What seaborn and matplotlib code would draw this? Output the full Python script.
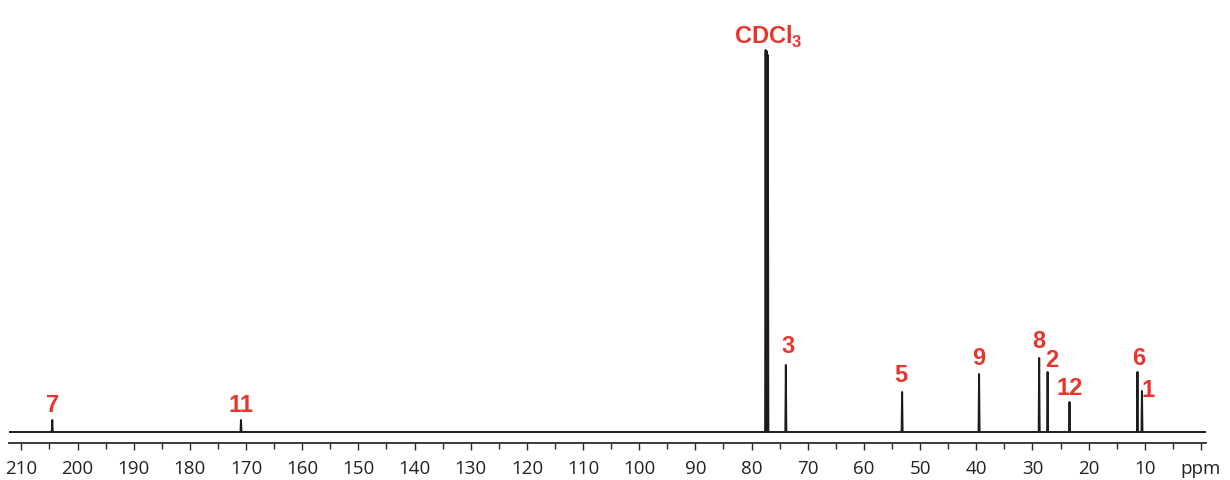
import numpy as np
import pandas as pd
import matplotlib
matplotlib.use("Agg")
import matplotlib.pyplot as plt
import seaborn as sns
from matplotlib.ticker import FixedLocator, FixedFormatter, MultipleLocator

# ---- data ----
peak_ppm = [204.5, 170.9, 77.5, 77.3, 77.1, 73.9, 53.2, 39.5, 28.8, 27.3, 23.4, 11.3, 10.5]
peak_height = [12, 12, 382, 381, 377, 67, 40, 58, 74, 60, 30, 60, 41]

label_text = ["7", "11", r"CDCl$_\mathbf{3}$", "3", "5", "9", "8", "2", "12", "6", "1"]
label_peak = [204.5, 170.9, 77.3, 73.9, 53.2, 39.5, 28.8, 27.3, 23.4, 11.3, 10.5]

tick_values = list(range(0, 220, 10))
tick_labels = ["ppm"] + [str(v) for v in range(10, 220, 10)]

# ---- layout / style ----
label_offset_px = {  # (dx, dy) in pixels relative to peak top
    "7": (0, 8), "11": (0, 8), r"CDCl$_\mathbf{3}$": (2, 7), "3": (2, 12),
    "5": (-1, 10), "9": (0, 9), "8": (0, 10.5), "2": (4, 5), "12": (0, 7),
    "6": (1.5, 7), "1": (6, -6),
}
RED = "#e8352b"
INK = "#1c1c1c"

sns.set_style("white")
plt.rcParams["font.family"] = ["Open Sans", "DejaVu Sans"]
plt.rcParams["mathtext.fontset"] = "custom"
plt.rcParams["mathtext.bf"] = "Liberation Sans:bold"
plt.rcParams["mathtext.rm"] = "Liberation Sans"

# spectrum polyline built from the peak list (narrow spikes on a flat baseline)
w = 0.09
xs, ys = [212.2], [0.0]
for p, h in sorted(zip(peak_ppm, peak_height), key=lambda t: -t[0]):
    xs += [p + w, p, p - w]
    ys += [0.0, h, 0.0]
xs.append(-0.9)
ys.append(0.0)
df = pd.DataFrame({"ppm": xs, "intensity": ys, "order": range(len(xs))})

fig = plt.figure(figsize=(12.3, 4.8), dpi=100)
ax = fig.add_axes([9 / 1230, 37 / 480, (1206 - 9) / 1230, 403 / 480])

sns.lineplot(data=df, x="ppm", y="intensity", ax=ax, sort=False, estimator=None,
             color=INK, linewidth=1.4)

ax.set_xlim(212.2, -0.9)
ax.set_ylim(-11, 392)

for s in ["top", "left", "right"]:
    ax.spines[s].set_visible(False)
ax.spines["bottom"].set_color("#2a2a2a")
ax.spines["bottom"].set_linewidth(1.3)
ax.set_yticks([])
ax.set_xlabel("")
ax.set_ylabel("")

ax.xaxis.set_major_locator(FixedLocator(tick_values))
ax.xaxis.set_major_formatter(FixedFormatter(tick_labels))
ax.xaxis.set_minor_locator(MultipleLocator(5))
ax.tick_params(axis="x", which="major", direction="out", length=5, width=1.0,
               color="#2a2a2a", labelsize=13.5, labelcolor="#222222", pad=7, bottom=True)
ax.tick_params(axis="x", which="minor", direction="out", length=4.5, width=1.0,
               color="#2a2a2a", bottom=True)

heights = dict(zip(peak_ppm, peak_height))
px2pt = 72 / 100
for txt, p in zip(label_text, label_peak):
    dx, dy = label_offset_px[txt]
    ax.annotate(txt, xy=(p, heights[p]), xytext=(dx * px2pt, dy * px2pt),
                textcoords="offset points", ha="center", va="baseline",
                color=RED, fontsize=17, fontweight="bold",
                family=["Liberation Sans", "DejaVu Sans"])

fig.savefig("out.png", dpi=100)
